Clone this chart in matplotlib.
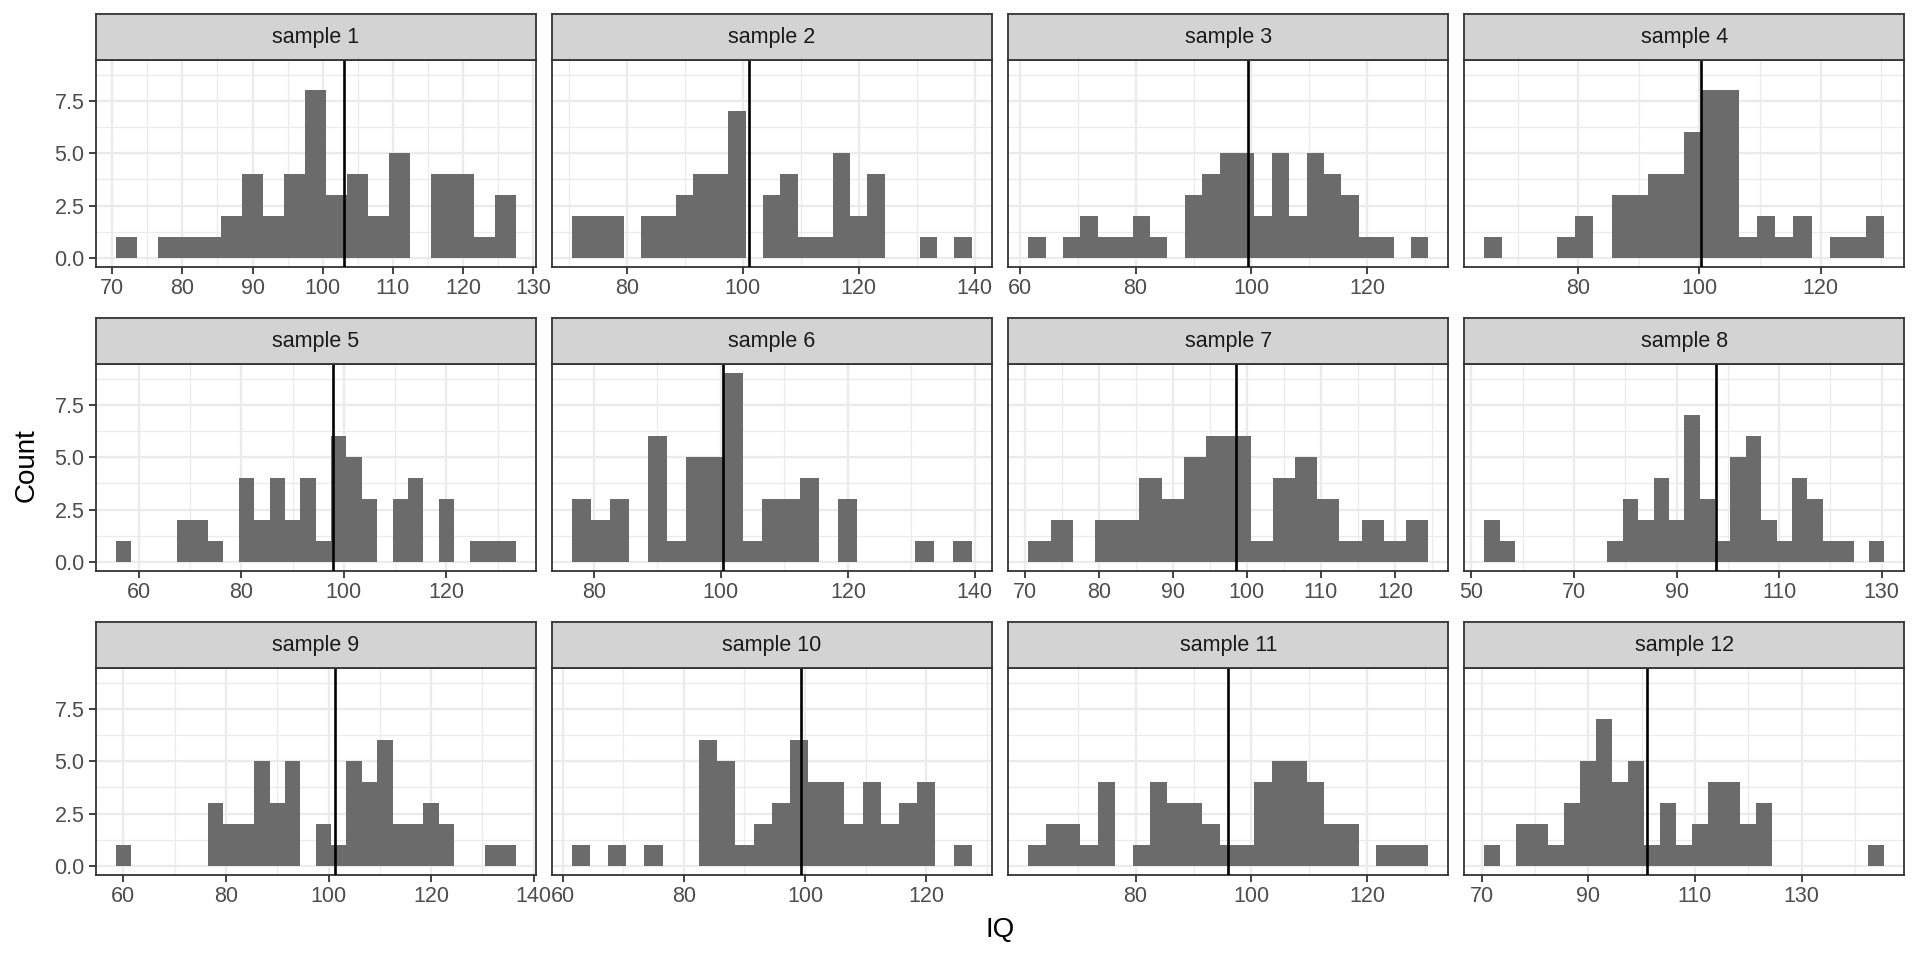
import matplotlib
matplotlib.use("Agg")
import matplotlib.pyplot as plt
import numpy as np

plt.rcParams['font.family'] = ['Liberation Sans', 'DejaVu Sans']

binwidth = 3
samples = [f"sample {i}" for i in range(1, 13)]
bin_start = [70.5, 70.5, 61.5, 64.5, 55.5, 76.5, 70.5, 52.5, 58.5, 61.5, 61.5, 70.5]

counts_1 = [1, 0, 1, 1, 1, 2, 4, 2, 4, 8, 3, 4, 2, 5, 0, 4, 4, 1, 3]
counts_2 = [2, 2, 2, 0, 2, 2, 3, 4, 4, 7, 0, 3, 4, 1, 1, 5, 2, 4, 0, 0, 1, 0, 1]
counts_3 = [1, 0, 1, 2, 1, 1, 2, 1, 0, 3, 4, 5, 5, 2, 5, 2, 5, 4, 3, 1, 1, 0, 1]
counts_4 = [1, 0, 0, 0, 1, 2, 0, 3, 3, 4, 4, 6, 8, 8, 1, 2, 1, 2, 0, 1, 1, 2]
counts_5 = [1, 0, 0, 0, 2, 2, 1, 0, 4, 2, 4, 2, 4, 1, 6, 5, 3, 0, 3, 4, 0, 3, 0, 1, 1, 1]
counts_6 = [3, 2, 3, 0, 6, 1, 5, 5, 9, 1, 3, 3, 4, 0, 3, 0, 0, 0, 1, 0, 1]
counts_7 = [1, 2, 0, 2, 2, 4, 3, 5, 6, 6, 1, 4, 5, 3, 1, 2, 1, 2]
counts_8 = [2, 1, 0, 0, 0, 0, 0, 0, 1, 3, 2, 4, 2, 7, 3, 1, 5, 6, 2, 1, 4, 3, 1, 1, 0, 1]
counts_9 = [1, 0, 0, 0, 0, 0, 3, 2, 2, 5, 3, 5, 0, 2, 1, 5, 4, 6, 2, 2, 3, 2, 0, 0, 1, 1]
counts_10 = [1, 0, 1, 0, 1, 0, 0, 6, 5, 1, 2, 3, 6, 4, 4, 2, 4, 2, 3, 4, 0, 1]
counts_11 = [1, 2, 2, 1, 4, 0, 1, 4, 3, 3, 2, 1, 1, 4, 5, 5, 4, 2, 2, 0, 1, 1, 1]
counts_12 = [1, 0, 2, 2, 1, 3, 5, 7, 4, 5, 1, 3, 1, 2, 4, 4, 2, 3, 0, 0, 0, 0, 0, 0, 1]
all_counts = [counts_1, counts_2, counts_3, counts_4, counts_5, counts_6,
              counts_7, counts_8, counts_9, counts_10, counts_11, counts_12]

means = [103.1, 101.05, 99.45, 100.3, 97.8, 100.4, 98.55, 97.6, 101.2, 99.4, 96.0, 101.0]

x_breaks = [
    [70, 80, 90, 100, 110, 120, 130],
    [80, 100, 120, 140],
    [60, 80, 100, 120],
    [80, 100, 120],
    [60, 80, 100, 120],
    [80, 100, 120, 140],
    [70, 80, 90, 100, 110, 120],
    [50, 70, 90, 110, 130],
    [60, 80, 100, 120, 140],
    [60, 80, 100, 120],
    [80, 100, 120],
    [70, 90, 110, 130],
]
y_breaks = [0, 2.5, 5.0, 7.5]
y_labels = ["0.0", "2.5", "5.0", "7.5"]

W, H = 1920, 960
fig = plt.figure(figsize=(W / 100, H / 100), dpi=100)
fig.patch.set_facecolor("white")

col_left = [95.7, 551.7, 1008.3, 1464.3]
panel_w = 440
row_strip_top = [14, 318, 622]
strip_h = 46
panel_h = 207.3

bar_color = "#6B6B6B"
grid_color = "#EBEBEB"
border_color = "#333333"
tick_color = "#4D4D4D"

ymax_count = max(max(c) for c in all_counts)
ylo, yhi = -0.05 * ymax_count, ymax_count * 1.05

for i in range(12):
    r, c = divmod(i, 4)
    x0 = col_left[c]
    st = row_strip_top[r]
    pt = st + strip_h
    ax = fig.add_axes([x0 / W, 1 - (pt + panel_h) / H, panel_w / W, panel_h / H])
    sax = fig.add_axes([x0 / W, 1 - pt / H, panel_w / W, strip_h / H])

    counts = np.array(all_counts[i])
    n = len(counts)
    edges = bin_start[i] + binwidth * np.arange(n + 1)
    extent = edges[-1] - edges[0]
    xlo = edges[0] - 0.05 * extent
    xhi = edges[-1] + 0.05 * extent

    majors = x_breaks[i]
    step = majors[1] - majors[0]
    minors = np.arange(majors[0] - step / 2, xhi + step, step)
    for m in minors:
        if xlo < m < xhi:
            ax.axvline(m, color=grid_color, lw=0.9, zorder=0)
    for m in majors:
        ax.axvline(m, color=grid_color, lw=1.7, zorder=0)
    for yv in [1.25, 3.75, 6.25, 8.75]:
        ax.axhline(yv, color=grid_color, lw=0.9, zorder=0)
    for yv in y_breaks:
        ax.axhline(yv, color=grid_color, lw=1.7, zorder=0)

    ax.bar(edges[:-1], counts, width=binwidth, align="edge", color=bar_color,
           edgecolor="none", linewidth=0, zorder=2)
    ax.axvline(means[i], color="black", lw=1.9, zorder=3)

    ax.set_xlim(xlo, xhi)
    ax.set_ylim(ylo, yhi)
    ax.set_xticks(majors)
    ax.set_xticklabels([str(m) for m in majors])
    ax.set_yticks(y_breaks)
    if c == 0:
        ax.set_yticklabels(y_labels)
    else:
        ax.set_yticklabels([])
    ax.tick_params(axis="both", colors=border_color, labelcolor=tick_color,
                   labelsize=15.5, length=5, width=1.3, direction="out", pad=3)
    if c != 0:
        ax.tick_params(axis="y", length=0)
    for sp in ax.spines.values():
        sp.set_color(border_color)
        sp.set_linewidth(1.3)
    ax.set_facecolor("white")

    sax.set_facecolor("#D3D3D3")
    sax.set_xticks([])
    sax.set_yticks([])
    for sp in sax.spines.values():
        sp.set_color(border_color)
        sp.set_linewidth(1.3)
    sax.text(0.5, 0.5, samples[i], ha="center", va="center", fontsize=15.5,
             color="#1A1A1A", transform=sax.transAxes)

fig.text(27 / W, 1 - 465 / H, "Count", rotation=90, ha="center", va="center",
         fontsize=20, color="black")
fig.text(1000 / W, 1 - 930 / H, "IQ", ha="center", va="center",
         fontsize=20, color="black")

fig.savefig("out.png", dpi=100, facecolor="white")
